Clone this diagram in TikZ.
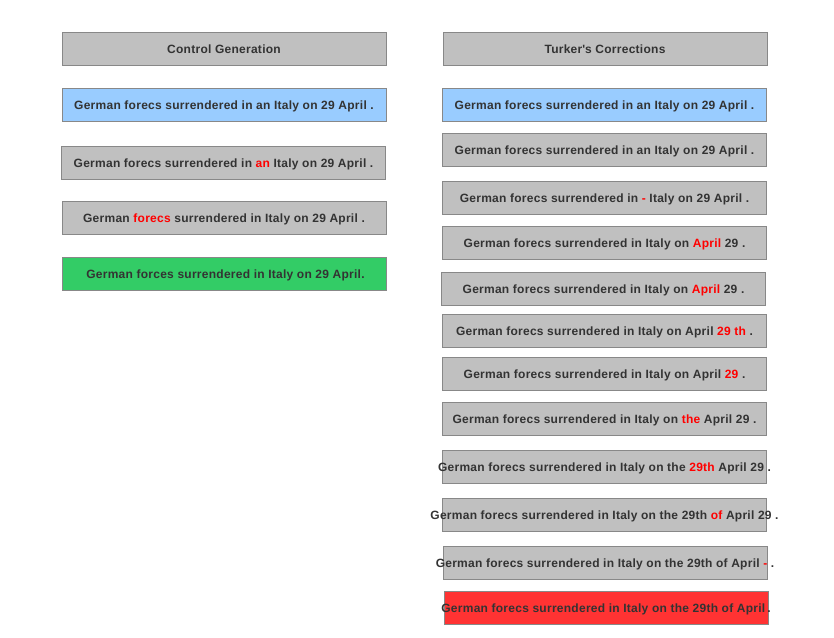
\documentclass[tikz,border=0pt]{standalone}
\usepackage{fontspec}
\setmainfont{Liberation Sans}
\newfontfamily\boxfont[LetterSpace=2.2]{Liberation Sans}
\definecolor{boxgray}{HTML}{C0C0C0}
\definecolor{boxblue}{HTML}{99CCFF}
\definecolor{boxgreen}{HTML}{33CC66}
\definecolor{boxred}{HTML}{FF3333}
\definecolor{edgegray}{HTML}{888888}
\definecolor{textgray}{HTML}{333333}
\definecolor{errred}{HTML}{FF0000}
\newcommand\redword[1]{\textcolor{errred}{#1}}
\tikzset{
  sent/.style={draw=edgegray, line width=0.9pt, fill=boxgray,
    minimum width=324pt, minimum height=33pt, inner sep=0pt,
    text=textgray, font=\boxfont\fontsize{12}{14}\selectfont\bfseries},
  blue/.style={fill=boxblue},
  green/.style={fill=boxgreen},
  wrong/.style={fill=boxred},
}
% sentence text is centred on its box (baseline a little below the middle)
% and may run past the box edges
\newcommand\txt[1]{\smash{\raisebox{-4.7pt}{\makebox[0pt][c]{#1}}}}
\begin{document}
\begin{tikzpicture}[x=1pt,y=-1pt]
\useasboundingbox (0,0) rectangle (834,637);
% left column: control generation
\node[sent] (cgh) at (224,48.5) {\txt{Control Generation}};
\node[sent,blue] (cg1) at (224,104.5) {\txt{German forecs surrendered in an Italy on 29 April .}};
\node[sent] (cg2) at (223.5,162.5) {\txt{German forecs surrendered in \redword{an} Italy on 29 April .}};
\node[sent] (cg3) at (224,217.5) {\txt{German \redword{forecs} surrendered in Italy on 29 April .}};
\node[sent,green] (cg4) at (224,273.5) {\txt{\hspace{3pt}German forces surrendered in Italy on 29 April.}};
% right column: turker corrections
\node[sent] (tch) at (605,48.5) {\txt{Turker\textquotesingle s Corrections}};
\node[sent,blue] (tc1) at (604.5,104.5) {\txt{German forecs surrendered in an Italy on 29 April .}};
\node[sent] (tc2) at (604.5,149.5) {\txt{German forecs surrendered in an Italy on 29 April .}};
\node[sent] (tc3) at (604.5,197.5) {\txt{German forecs surrendered in \redword{-} Italy on 29 April .}};
\node[sent] (tc4) at (604.5,242.5) {\txt{German forecs surrendered in Italy on \redword{April} 29 .}};
\node[sent] (tc5) at (603.5,288.5) {\txt{German forecs surrendered in Italy on \redword{April} 29 .}};
\node[sent] (tc6) at (604.5,330.5) {\txt{German forecs surrendered in Italy on April \redword{29 th} .}};
\node[sent] (tc7) at (604.5,373.5) {\txt{German forecs surrendered in Italy on April \redword{29} .}};
\node[sent] (tc8) at (604.5,418.5) {\txt{German forecs surrendered in Italy on \redword{the} April 29 .}};
\node[sent] (tc9) at (604.5,466.5) {\txt{German forecs surrendered in Italy on the \redword{29th} April 29 .}};
\node[sent] (tc10) at (604.5,514.5) {\txt{German forecs surrendered in Italy on the 29th \redword{of} April 29 .}};
\node[sent] (tc11) at (605,562.5) {\txt{German forecs surrendered in Italy on the 29th of April \redword{-} .}};
\node[sent,wrong] (tc12) at (606,607.5) {\txt{German forecs surrendered in Italy on the 29th of April\,.}};
\end{tikzpicture}
\end{document}
